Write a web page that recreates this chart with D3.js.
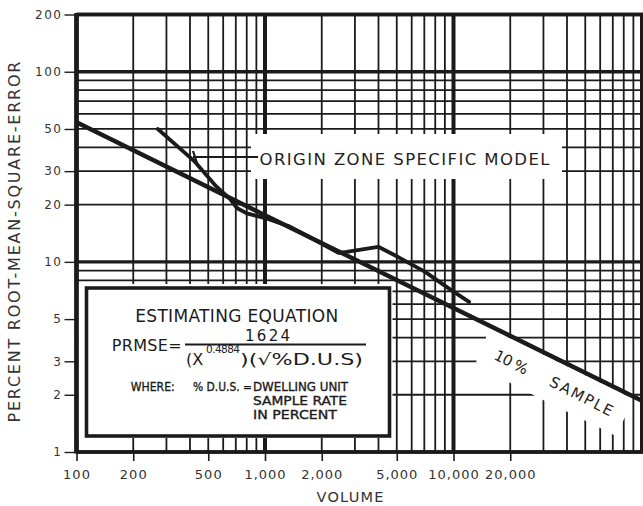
<!DOCTYPE html>
<html>
<head>
<meta charset="utf-8">
<script src="https://cdn.jsdelivr.net/npm/d3@7"></script>
<style>
  body { margin: 0; background: #fff; }
  svg { display: block; }
</style>
</head>
<body>
<script>
// Labelled volume ticks (x axis)
const volumeTicks = [100, 200, 500, 1000, 2000, 5000, 10000, 20000];
const volumeTickLabels = ["100", "200", "500", "1,000", "2,000", "5,000", "10,000", "20,000"];

// Labelled error ticks (y axis)
const errorTicks = [200, 100, 50, 30, 20, 10, 5, 3, 2, 1];
const errorTickLabels = ["200", "100", "50", "30", "20", "10", "5", "3", "2", "1"];

// Origin zone specific model: volume vs. percent RMSE
const originVolume = [270, 420, 550, 650, 710, 800, 1000, 1340, 1770, 2450, 2710, 3990, 5090, 7070, 9720, 12100];
const originError  = [50, 34, 25, 21.5, 19.2, 18, 17, 15.4, 13.3, 11.15, 11.3, 12.0, 10.6, 8.86, 7.1, 6.16];

// 10 % dwelling unit sample curve
const sampleVolume = [100, 1000, 10000, 100000];
const sampleError  = [54.2, 17.6, 5.72, 1.86];

const W = 643, H = 506;
const INK = "#1b1b1b";
const FONT = "'DejaVu Sans', Verdana, sans-serif";

const svg = d3.select("body").append("svg")
  .attr("width", W).attr("height", H)
  .style("background", "#fff");

const x = d3.scaleLog().domain([100, 100000]).range([76.5, 642]);
const y = d3.scaleLog().domain([1, 200]).range([452, 14.5]);

const isDecade = v => Math.abs(Math.log10(v) - Math.round(Math.log10(v))) < 1e-9;

// ---- grid ----
const grid = svg.append("g");
grid.selectAll("line.v").data(x.ticks()).join("line")
  .attr("x1", d => x(d)).attr("x2", d => x(d))
  .attr("y1", y(200)).attr("y2", y(1))
  .attr("stroke", INK)
  .attr("stroke-width", d => isDecade(d) ? 4 : 1.8);

grid.selectAll("line.h").data(y.ticks()).join("line")
  .attr("x1", x(100)).attr("x2", W)
  .attr("y1", d => y(d)).attr("y2", d => y(d))
  .attr("stroke", INK)
  .attr("stroke-width", d => (isDecade(d) || d === 200) ? 3.4 : 1.8);

// ---- white backdrops behind the annotations ----
const sampleLine = sampleVolume.map((v, i) => [x(v), y(sampleError[i])]);
const p0 = sampleLine[0], p1 = sampleLine[sampleLine.length - 1];
const lineYAt = px => p0[1] + (px - p0[0]) * (p1[1] - p0[1]) / (p1[0] - p0[0]);

const masks = svg.append("g").attr("fill", "#fff");
// band for the model caption
masks.append("rect").attr("x", 251).attr("y", 134).attr("width", 311).attr("height", 45);
// equation panel
masks.append("rect").attr("x", 78.5).attr("y", 284).attr("width", 314).attr("height", 154);
// band under the sample curve for its caption
masks.append("polygon").attr("points", [
  [486, lineYAt(486) + 2.5], [632, lineYAt(632) + 2.5], [626, 415], [616, 436],
  [576, 416], [545, 401], [512, 384], [476, 362], [486, 338]
].map(p => p.join(",")).join(" "));

// ---- frame ----
svg.append("line").attr("x1", x(100)).attr("x2", x(100)).attr("y1", y(200) - 1.5).attr("y2", y(1) + 1.5)
  .attr("stroke", INK).attr("stroke-width", 4.6);
svg.append("line").attr("x1", x(100)).attr("x2", W).attr("y1", y(200)).attr("y2", y(200))
  .attr("stroke", INK).attr("stroke-width", 3.4);
svg.append("line").attr("x1", x(100)).attr("x2", W).attr("y1", y(1)).attr("y2", y(1))
  .attr("stroke", INK).attr("stroke-width", 3.4);

// ---- axes ----
const xAxis = svg.append("g").attr("transform", `translate(0,${y(1)})`)
  .call(d3.axisBottom(x).tickValues(volumeTicks)
    .tickFormat((d, i) => volumeTickLabels[i]).tickSize(9).tickPadding(9));
xAxis.select(".domain").remove();
xAxis.selectAll("line").attr("stroke", INK).attr("stroke-width", 1.6);
xAxis.selectAll("text").attr("fill", "#333").style("font-family", FONT)
  .style("font-size", "13px").style("letter-spacing", "1px");

const yAxis = svg.append("g").attr("transform", `translate(${x(100)},0)`)
  .call(d3.axisLeft(y).tickValues(errorTicks)
    .tickFormat((d, i) => errorTickLabels[i]).tickSize(12).tickPadding(2));
yAxis.select(".domain").remove();
yAxis.selectAll("line").attr("stroke", INK).attr("stroke-width", 1.4);
yAxis.selectAll("text").attr("fill", "#333").style("font-family", FONT)
  .style("font-size", "12px").style("letter-spacing", "1.5px");

// axis titles
svg.append("text")
  .attr("transform", "translate(14,242) rotate(-90)")
  .attr("text-anchor", "middle").attr("dominant-baseline", "central")
  .attr("textLength", 361).attr("lengthAdjust", "spacing")
  .attr("fill", "#333").style("font-family", FONT).style("font-size", "16px")
  .text("PERCENT ROOT-MEAN-SQUARE-ERROR");

svg.append("text")
  .attr("x", 350).attr("y", 502).attr("text-anchor", "middle")
  .attr("textLength", 67).attr("lengthAdjust", "spacing")
  .attr("fill", "#333").style("font-family", FONT).style("font-size", "14.5px")
  .text("VOLUME");

// ---- curves ----
const line = d3.line().x(d => x(d[0])).y(d => y(d[1]));

svg.append("path")
  .datum(sampleVolume.map((v, i) => [v, sampleError[i]]))
  .attr("d", line).attr("fill", "none")
  .attr("stroke", INK).attr("stroke-width", 4.4).attr("stroke-linecap", "butt");

svg.append("path")
  .datum(originVolume.map((v, i) => [v, originError[i]]))
  .attr("d", line).attr("fill", "none")
  .attr("stroke", INK).attr("stroke-width", 3.8)
  .attr("stroke-linejoin", "round").attr("stroke-linecap", "round");

// ---- model caption with leader ----
svg.append("line").attr("x1", 193).attr("x2", 258).attr("y1", 157).attr("y2", 157)
  .attr("stroke", INK).attr("stroke-width", 1.8);
svg.append("line").attr("x1", 193).attr("x2", 197).attr("y1", 151).attr("y2", 163)
  .attr("stroke", INK).attr("stroke-width", 2.2);
svg.append("text")
  .attr("x", 259.5).attr("y", 165)
  .attr("textLength", 290).attr("lengthAdjust", "spacing")
  .attr("fill", "#1e1e1e").style("font-family", FONT).style("font-size", "16.5px")
  .text("ORIGIN ZONE SPECIFIC MODEL");

// ---- sample caption along the curve ----
const tilt = 27;
[["10 %", 511.5, 362, 36], ["SAMPLE", 581.5, 396, 69]].forEach(([t, cx, cy, len]) => {
  svg.append("text")
    .attr("transform", `translate(${cx},${cy}) rotate(${tilt})`)
    .attr("text-anchor", "middle").attr("dy", "0.36em")
    .attr("textLength", len).attr("lengthAdjust", "spacing")
    .attr("fill", "#1e1e1e").style("font-family", FONT).style("font-size", "15px")
    .text(t);
});

// ---- equation panel ----
const eq = svg.append("g").attr("fill", "#1b1b1b").style("font-family", FONT);
svg.append("rect").attr("x", 86.5).attr("y", 288).attr("width", 303).attr("height", 148)
  .attr("fill", "none").attr("stroke", INK).attr("stroke-width", 3.6);

eq.append("text").attr("x", 236.7).attr("y", 322.3).attr("text-anchor", "middle")
  .attr("textLength", 203).attr("lengthAdjust", "spacing")
  .style("font-size", "17px").text("ESTIMATING EQUATION");
eq.append("text").attr("x", 111.7).attr("y", 350.7)
  .attr("textLength", 70).attr("lengthAdjust", "spacing")
  .style("font-size", "16px").text("PRMSE=");
svg.append("line").attr("x1", 185).attr("x2", 366).attr("y1", 344.5).attr("y2", 344.5)
  .attr("stroke", INK).attr("stroke-width", 1.8);
eq.append("text").attr("x", 267.5).attr("y", 340.7).attr("text-anchor", "middle")
  .attr("textLength", 45).attr("lengthAdjust", "spacing")
  .style("font-size", "15px").text("1624");
eq.append("text").attr("x", 186).attr("y", 364.5)
  .style("font-size", "16px").text("(X");
eq.append("text").attr("x", 206).attr("y", 352.5)
  .attr("textLength", 34).attr("lengthAdjust", "spacing")
  .style("font-size", "10.5px").text("0.4884");
eq.append("text").attr("x", 240).attr("y", 364.5)
  .attr("textLength", 123).attr("lengthAdjust", "spacingAndGlyphs")
  .style("font-size", "16px").text(")(\u221A%D.U.S)");

const small = [
  ["WHERE:", 130.7, 390.7, 44],
  ["% D.U.S. =", 193, 390.7, 59],
  ["DWELLING UNIT", 253, 390.7, 95],
  ["SAMPLE RATE", 253, 405, 94],
  ["IN PERCENT", 253, 419, 84]
];
small.forEach(([t, tx, ty, len]) => {
  eq.append("text").attr("x", tx).attr("y", ty)
    .attr("textLength", len).attr("lengthAdjust", "spacingAndGlyphs")
    .attr("stroke", "#1b1b1b").attr("stroke-width", 0.35)
    .style("font-size", "12px").text(t);
});
</script>
</body>
</html>
